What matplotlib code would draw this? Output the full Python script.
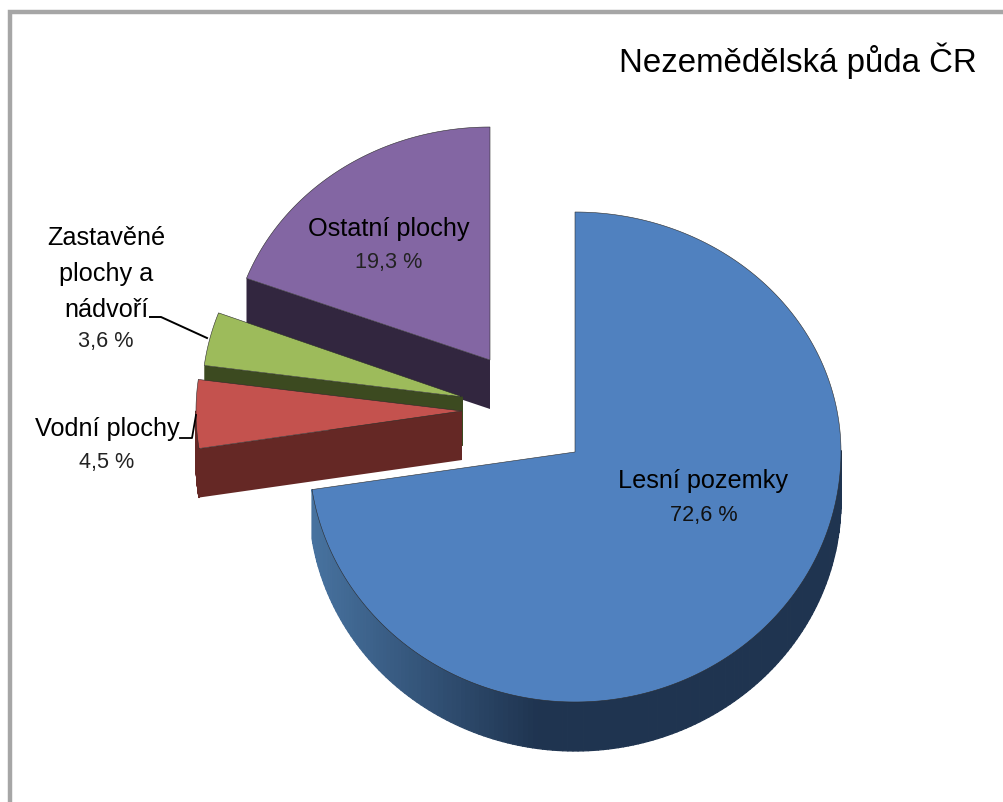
import numpy as np
import matplotlib
matplotlib.use("Agg")
import matplotlib.pyplot as plt
from matplotlib.colors import to_rgb
from matplotlib.patches import Polygon
from matplotlib.collections import PolyCollection

plt.rcParams['font.family'] = ['Liberation Sans', 'DejaVu Sans']

# Data
categories = ["Lesní pozemky", "Vodní plochy", "Zastavěné\nplochy a\nnádvoří", "Ostatní plochy"]
values = [72.6, 4.5, 3.6, 19.3]
value_labels = ["72,6 %", "4,5 %", "3,6 %", "19,3 %"]
title = "Nezemědělská půda ČR"

# Styles / layout
top_colors = ["#5081bf", "#c4524e", "#9dbb5b", "#8366a3"]
side_colors = ["#1f3450", "#652825", "#3c4a20", "#32263f"]
tips = [(575, 453), (462, 412), (463, 398), (490, 361)]
radii = [(266, 240, 250), (266, 240, 250), (261, 240, 250), (260, 233, 250)]
depth = 49

fig = plt.figure(figsize=(10.04, 8.03), dpi=100)
ax = fig.add_axes([0, 0, 1, 1])
ax.set_xlim(0, 1004)
ax.set_ylim(803, 0)
ax.axis("off")

# Frame
ax.plot([10, 10, 1004], [803, 13, 13], color="#a6a6a6", lw=3.2, solid_joinstyle="miter", zorder=1)

edges = np.concatenate([[0], np.cumsum(values)]) / sum(values) * 2 * np.pi


def arc(i):
    t = np.linspace(edges[i], edges[i + 1], 240)
    cx, cy = tips[i]
    rx, up, down = radii[i]
    c = np.cos(t)
    x = cx + rx * np.sin(t)
    y = cy - np.where(c > 0, up, down) * c
    return x, y, c


def draw_slice(i, z):
    x, y, c = arc(i)
    cx, cy = tips[i]
    # front radial wall of an exploded slice
    if i > 0:
        ax.add_patch(Polygon([(cx, cy), (x[0], y[0]), (x[0], y[0] + depth), (cx, cy + depth)],
                             fc=side_colors[i], ec="none", zorder=z))
    # outer rim: only the front half of the ellipse can be seen
    quads, cols = [], []
    dark = np.array(to_rgb(side_colors[i]))
    light = np.array(to_rgb("#47729f"))
    for k in range(len(x) - 1):
        if c[k] > 0 and c[k + 1] > 0:
            continue
        quads.append([(x[k], y[k]), (x[k + 1], y[k + 1]),
                      (x[k + 1], y[k + 1] + depth), (x[k], y[k] + depth)])
        if i == 0:
            f = np.clip((x[k] - 314) / 225, 0, 1)
            cols.append(light * (1 - f) + dark * f)
        else:
            cols.append(dark)
    ax.add_collection(PolyCollection(quads, facecolors=cols, edgecolors=cols, linewidths=0.9, zorder=z))
    ax.add_patch(Polygon(np.column_stack([np.r_[cx, x], np.r_[cy, y]]), closed=True,
                         fc=top_colors[i], ec="#2b2b2b", lw=0.4, zorder=z + 0.5))


for z, i in enumerate([3, 2, 1, 0]):
    draw_slice(i, 2 + z)

# Leader lines
ax.plot([150, 161, 207], [318, 318, 339], color="black", lw=1.4, zorder=8)
ax.plot([180, 192, 196], [439, 439, 416], color="black", lw=1.3, zorder=8)

# Labels
ax.text(977, 61, title, ha="right", va="center", fontsize=23.8, color="black", zorder=9)
name_size, val_size = 18.2, 15.6
ax.text(703, 481, categories[0], ha="center", va="center", fontsize=name_size, zorder=9)
ax.text(704, 516, value_labels[0], ha="center", va="center", fontsize=val_size, color="#111111", zorder=9)
ax.text(389, 229, categories[3], ha="center", va="center", fontsize=name_size, zorder=9)
ax.text(389, 263, value_labels[3], ha="center", va="center", fontsize=val_size, color="#222222", zorder=9)
ax.text(106, 274, categories[2], ha="center", va="center", fontsize=name_size, linespacing=1.62, zorder=9)
ax.text(106, 342, value_labels[2], ha="center", va="center", fontsize=val_size, color="#222222", zorder=9)
ax.text(107, 429, categories[1], ha="center", va="center", fontsize=name_size, zorder=9)
ax.text(107, 463, value_labels[1], ha="center", va="center", fontsize=val_size, color="#222222", zorder=9)

fig.savefig("out.png", dpi=100, facecolor="white")
